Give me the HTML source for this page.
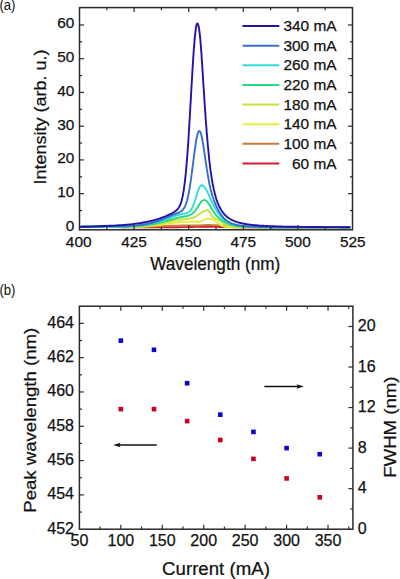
<!DOCTYPE html>
<html><head><meta charset="utf-8"><style>
html,body{margin:0;padding:0;background:#fff;width:400px;height:579px;overflow:hidden;position:relative}
svg text{font-family:"Liberation Sans", sans-serif;fill:#111;stroke:#111;stroke-width:0.25px}
</style></head><body>
<svg width="400" height="579" viewBox="0 0 400 579" style="position:absolute;left:0;top:0"><rect width="400" height="579" fill="#fff"/><polyline points="79.5,226.9 83.9,226.8 88.2,226.7 92.6,226.6 97.0,226.5 101.3,226.6 105.7,226.6 110.1,226.7 114.4,226.9 118.8,227.1 123.2,227.4 127.5,227.4 131.9,227.4 136.3,227.4 140.7,227.3 145.0,227.3 145.6,227.3 146.1,227.3 146.7,227.3 147.2,227.3 147.8,227.3 148.3,227.3 148.8,227.3 149.4,227.3 149.9,227.3 150.5,227.3 151.0,227.3 151.6,227.3 152.1,227.3 152.7,227.3 153.2,227.3 153.8,227.3 154.3,227.3 154.8,227.3 155.4,227.3 155.9,227.3 156.5,227.3 157.0,227.3 157.6,227.3 158.1,227.3 158.7,227.3 159.2,227.3 159.8,227.3 160.3,227.3 160.9,227.3 161.4,227.3 161.9,227.3 162.5,227.3 163.0,227.3 163.6,227.3 164.1,227.3 164.7,227.3 165.2,227.3 165.8,227.3 166.3,227.3 166.9,227.3 167.4,227.3 168.0,227.3 168.5,227.3 169.0,227.3 169.6,227.2 170.1,227.2 170.7,227.2 171.2,227.2 171.8,227.2 172.3,227.2 172.9,227.2 173.4,227.2 174.0,227.2 174.5,227.2 175.1,227.2 175.6,227.2 176.1,227.2 176.7,227.2 177.2,227.2 177.8,227.2 178.3,227.2 178.9,227.2 179.4,227.2 180.0,227.1 180.5,227.1 181.1,227.1 181.6,227.1 182.1,227.1 182.7,227.1 183.2,227.1 183.8,227.1 184.3,227.1 184.9,227.1 185.4,227.1 186.0,227.1 186.5,227.1 187.1,227.1 187.6,227.0 188.2,227.0 188.7,227.0 189.2,227.0 189.8,227.0 190.3,227.0 190.9,227.0 191.4,227.0 192.0,227.0 192.5,227.0 193.1,227.0 193.6,227.0 194.2,226.9 194.7,226.9 195.3,226.9 195.8,226.9 196.3,226.9 196.9,226.9 197.4,226.9 198.0,226.9 198.5,226.9 199.1,226.9 199.6,226.9 200.2,226.9 200.7,226.9 201.3,226.9 201.8,226.9 202.3,226.9 202.9,226.9 203.4,226.9 204.0,226.9 204.5,226.9 205.1,226.9 205.6,226.9 206.2,226.9 206.7,226.9 207.3,226.9 207.8,226.9 208.4,226.9 208.9,226.9 209.4,226.9 210.0,226.9 210.5,226.9 211.1,226.9 211.6,226.9 212.2,226.9 212.7,226.9 213.3,226.9 213.8,226.9 214.4,226.9 214.9,226.9 215.5,226.9 216.0,226.9 216.5,226.9 217.1,226.9 217.6,226.9 218.2,226.9 218.7,227.0 219.3,227.0 219.8,227.0 220.4,227.0 220.9,227.0 221.5,227.0 222.0,227.0 222.6,227.0 223.1,227.0 223.6,227.0 224.2,227.0 224.7,227.0 225.3,227.1 225.8,227.1 226.4,227.1 226.9,227.1 227.5,227.1 228.0,227.1 228.6,227.1 229.1,227.1 229.7,227.1 230.2,227.1 230.7,227.1 231.3,227.1 231.8,227.1 232.4,227.1 232.9,227.2 233.5,227.2 234.0,227.2 234.6,227.2 235.1,227.2 235.7,227.2 236.2,227.2 236.7,227.2 237.3,227.2 237.8,227.2 238.4,227.2 238.9,227.2 239.5,227.2 240.0,227.2 240.6,227.2 241.1,227.2 241.7,227.2 242.2,227.2 242.8,227.2 243.3,227.3 243.8,227.3 244.4,227.3 244.9,227.3 245.5,227.3 246.0,227.3 246.6,227.3 247.1,227.3 247.7,227.3 248.2,227.3 248.8,227.3 249.3,227.3 249.9,227.3 250.4,227.3 250.9,227.3 251.5,227.3 252.0,227.3 252.6,227.3 253.1,227.3 253.7,227.3 254.2,227.3 254.8,227.3 255.3,227.3 255.9,227.3 256.4,227.3 256.9,227.3 257.5,227.3 258.0,227.3 258.6,227.3 259.1,227.3 259.7,227.3 260.2,227.3 260.8,227.3 261.3,227.3 261.9,227.3 262.4,227.3 263.0,227.3 263.5,227.3 264.0,227.3 264.6,227.3 265.1,227.3 265.7,227.3 266.2,227.3 266.8,227.3 267.3,227.3 267.9,227.3 268.4,227.3 269.0,227.3 269.5,227.3 270.1,227.3 270.6,227.3 271.1,227.3 271.7,227.3 272.2,227.3 272.8,227.3 273.3,227.3 273.9,227.3 274.4,227.3 275.0,227.3 275.5,227.4 276.1,227.4 280.4,227.4 284.8,227.4 289.2,227.4 293.5,227.4 297.9,227.4 302.3,227.4 306.6,227.4 311.0,227.4 315.4,227.4 319.7,227.4 324.1,227.4 328.5,227.4 332.8,227.4 337.2,227.4 341.6,227.4 345.9,227.4 350.3,227.4" fill="none" stroke="#d01c30" stroke-width="1.9" stroke-linejoin="round"/><polyline points="79.5,226.9 83.9,226.8 88.2,226.7 92.6,226.6 97.0,226.5 101.3,226.5 105.7,226.6 110.1,226.7 114.4,226.8 118.8,227.0 123.2,227.2 127.5,227.1 131.9,227.1 136.3,227.0 140.7,226.9 145.0,226.7 145.6,226.7 146.1,226.7 146.7,226.7 147.2,226.7 147.8,226.6 148.3,226.6 148.8,226.6 149.4,226.6 149.9,226.6 150.5,226.5 151.0,226.5 151.6,226.5 152.1,226.5 152.7,226.4 153.2,226.4 153.8,226.4 154.3,226.4 154.8,226.3 155.4,226.3 155.9,226.3 156.5,226.3 157.0,226.2 157.6,226.2 158.1,226.2 158.7,226.2 159.2,226.1 159.8,226.1 160.3,226.1 160.9,226.1 161.4,226.0 161.9,226.0 162.5,226.0 163.0,226.0 163.6,226.0 164.1,225.9 164.7,225.9 165.2,225.9 165.8,225.9 166.3,225.8 166.9,225.8 167.4,225.8 168.0,225.8 168.5,225.8 169.0,225.8 169.6,225.7 170.1,225.7 170.7,225.7 171.2,225.7 171.8,225.7 172.3,225.7 172.9,225.7 173.4,225.6 174.0,225.6 174.5,225.6 175.1,225.6 175.6,225.6 176.1,225.6 176.7,225.6 177.2,225.6 177.8,225.6 178.3,225.6 178.9,225.6 179.4,225.5 180.0,225.5 180.5,225.5 181.1,225.5 181.6,225.5 182.1,225.5 182.7,225.5 183.2,225.5 183.8,225.5 184.3,225.5 184.9,225.5 185.4,225.5 186.0,225.5 186.5,225.5 187.1,225.5 187.6,225.5 188.2,225.5 188.7,225.5 189.2,225.5 189.8,225.5 190.3,225.5 190.9,225.5 191.4,225.5 192.0,225.5 192.5,225.5 193.1,225.5 193.6,225.5 194.2,225.5 194.7,225.5 195.3,225.5 195.8,225.5 196.3,225.5 196.9,225.5 197.4,225.5 198.0,225.5 198.5,225.5 199.1,225.5 199.6,225.4 200.2,225.4 200.7,225.4 201.3,225.4 201.8,225.3 202.3,225.3 202.9,225.3 203.4,225.2 204.0,225.2 204.5,225.1 205.1,225.1 205.6,225.0 206.2,225.0 206.7,225.0 207.3,225.0 207.8,225.0 208.4,225.0 208.9,225.0 209.4,225.0 210.0,225.0 210.5,225.0 211.1,225.1 211.6,225.1 212.2,225.1 212.7,225.1 213.3,225.1 213.8,225.2 214.4,225.2 214.9,225.2 215.5,225.2 216.0,225.2 216.5,225.3 217.1,225.3 217.6,225.3 218.2,225.3 218.7,225.4 219.3,225.4 219.8,225.4 220.4,225.5 220.9,225.5 221.5,225.5 222.0,225.6 222.6,225.6 223.1,225.6 223.6,225.7 224.2,225.7 224.7,225.8 225.3,225.8 225.8,225.9 226.4,225.9 226.9,226.0 227.5,226.0 228.0,226.1 228.6,226.1 229.1,226.2 229.7,226.3 230.2,226.3 230.7,226.4 231.3,226.4 231.8,226.5 232.4,226.5 232.9,226.6 233.5,226.6 234.0,226.7 234.6,226.7 235.1,226.8 235.7,226.8 236.2,226.8 236.7,226.9 237.3,226.9 237.8,226.9 238.4,227.0 238.9,227.0 239.5,227.0 240.0,227.1 240.6,227.1 241.1,227.1 241.7,227.1 242.2,227.1 242.8,227.2 243.3,227.2 243.8,227.2 244.4,227.2 244.9,227.2 245.5,227.2 246.0,227.2 246.6,227.2 247.1,227.3 247.7,227.3 248.2,227.3 248.8,227.3 249.3,227.3 249.9,227.3 250.4,227.3 250.9,227.3 251.5,227.3 252.0,227.3 252.6,227.3 253.1,227.3 253.7,227.3 254.2,227.3 254.8,227.3 255.3,227.3 255.9,227.3 256.4,227.3 256.9,227.3 257.5,227.4 258.0,227.4 258.6,227.4 259.1,227.4 259.7,227.4 260.2,227.4 260.8,227.4 261.3,227.4 261.9,227.4 262.4,227.4 263.0,227.4 263.5,227.4 264.0,227.4 264.6,227.4 265.1,227.4 265.7,227.4 266.2,227.4 266.8,227.4 267.3,227.4 267.9,227.4 268.4,227.4 269.0,227.4 269.5,227.4 270.1,227.4 270.6,227.4 271.1,227.4 271.7,227.4 272.2,227.4 272.8,227.4 273.3,227.4 273.9,227.4 274.4,227.4 275.0,227.4 275.5,227.4 276.1,227.4 280.4,227.4 284.8,227.4 289.2,227.4 293.5,227.4 297.9,227.4 302.3,227.4 306.6,227.4 311.0,227.4 315.4,227.4 319.7,227.4 324.1,227.4 328.5,227.4 332.8,227.4 337.2,227.4 341.6,227.4 345.9,227.4 350.3,227.4" fill="none" stroke="#cc7a3a" stroke-width="1.9" stroke-linejoin="round"/><polyline points="79.5,226.9 83.9,226.8 88.2,226.7 92.6,226.6 97.0,226.5 101.3,226.5 105.7,226.6 110.1,226.7 114.4,226.8 118.8,226.9 123.2,227.2 127.5,227.1 131.9,227.0 136.3,226.9 140.7,226.7 145.0,226.5 145.6,226.4 146.1,226.4 146.7,226.3 147.2,226.3 147.8,226.3 148.3,226.2 148.8,226.2 149.4,226.1 149.9,226.1 150.5,226.0 151.0,226.0 151.6,225.9 152.1,225.9 152.7,225.8 153.2,225.8 153.8,225.7 154.3,225.7 154.8,225.6 155.4,225.5 155.9,225.5 156.5,225.4 157.0,225.3 157.6,225.2 158.1,225.2 158.7,225.1 159.2,225.0 159.8,224.9 160.3,224.9 160.9,224.8 161.4,224.7 161.9,224.6 162.5,224.5 163.0,224.4 163.6,224.4 164.1,224.3 164.7,224.2 165.2,224.1 165.8,224.0 166.3,223.9 166.9,223.8 167.4,223.8 168.0,223.7 168.5,223.6 169.0,223.5 169.6,223.4 170.1,223.3 170.7,223.2 171.2,223.2 171.8,223.1 172.3,223.0 172.9,222.9 173.4,222.9 174.0,222.8 174.5,222.7 175.1,222.7 175.6,222.6 176.1,222.6 176.7,222.5 177.2,222.4 177.8,222.4 178.3,222.3 178.9,222.3 179.4,222.3 180.0,222.2 180.5,222.2 181.1,222.1 181.6,222.1 182.1,222.1 182.7,222.1 183.2,222.0 183.8,222.0 184.3,222.0 184.9,222.0 185.4,221.9 186.0,221.9 186.5,221.9 187.1,221.9 187.6,221.9 188.2,221.9 188.7,221.9 189.2,221.9 189.8,221.8 190.3,221.8 190.9,221.8 191.4,221.8 192.0,221.8 192.5,221.8 193.1,221.8 193.6,221.8 194.2,221.8 194.7,221.8 195.3,221.8 195.8,221.8 196.3,221.8 196.9,221.8 197.4,221.8 198.0,221.8 198.5,221.7 199.1,221.7 199.6,221.6 200.2,221.5 200.7,221.4 201.3,221.3 201.8,221.1 202.3,220.9 202.9,220.6 203.4,220.3 204.0,220.0 204.5,219.7 205.1,219.4 205.6,219.1 206.2,218.9 206.7,218.7 207.3,218.6 207.8,218.6 208.4,218.6 208.9,218.7 209.4,218.8 210.0,218.9 210.5,219.1 211.1,219.2 211.6,219.4 212.2,219.6 212.7,219.9 213.3,220.1 213.8,220.4 214.4,220.7 214.9,221.0 215.5,221.3 216.0,221.7 216.5,222.1 217.1,222.5 217.6,222.9 218.2,223.3 218.7,223.7 219.3,224.1 219.8,224.5 220.4,224.9 220.9,225.2 221.5,225.5 222.0,225.7 222.6,225.9 223.1,226.1 223.6,226.3 224.2,226.5 224.7,226.6 225.3,226.7 225.8,226.8 226.4,226.9 226.9,226.9 227.5,227.0 228.0,227.0 228.6,227.1 229.1,227.1 229.7,227.1 230.2,227.2 230.7,227.2 231.3,227.2 231.8,227.2 232.4,227.3 232.9,227.3 233.5,227.3 234.0,227.3 234.6,227.3 235.1,227.3 235.7,227.3 236.2,227.3 236.7,227.3 237.3,227.3 237.8,227.3 238.4,227.3 238.9,227.4 239.5,227.4 240.0,227.4 240.6,227.4 241.1,227.4 241.7,227.4 242.2,227.4 242.8,227.4 243.3,227.4 243.8,227.4 244.4,227.4 244.9,227.4 245.5,227.4 246.0,227.4 246.6,227.4 247.1,227.4 247.7,227.4 248.2,227.4 248.8,227.4 249.3,227.4 249.9,227.4 250.4,227.4 250.9,227.4 251.5,227.4 252.0,227.4 252.6,227.4 253.1,227.4 253.7,227.4 254.2,227.4 254.8,227.4 255.3,227.4 255.9,227.4 256.4,227.4 256.9,227.4 257.5,227.4 258.0,227.4 258.6,227.4 259.1,227.4 259.7,227.4 260.2,227.4 260.8,227.4 261.3,227.4 261.9,227.4 262.4,227.4 263.0,227.4 263.5,227.4 264.0,227.4 264.6,227.4 265.1,227.4 265.7,227.4 266.2,227.4 266.8,227.4 267.3,227.4 267.9,227.4 268.4,227.4 269.0,227.4 269.5,227.4 270.1,227.4 270.6,227.4 271.1,227.4 271.7,227.4 272.2,227.4 272.8,227.4 273.3,227.4 273.9,227.4 274.4,227.4 275.0,227.4 275.5,227.4 276.1,227.4 280.4,227.4 284.8,227.4 289.2,227.4 293.5,227.4 297.9,227.4 302.3,227.4 306.6,227.4 311.0,227.4 315.4,227.4 319.7,227.4 324.1,227.4 328.5,227.4 332.8,227.4 337.2,227.4 341.6,227.4 345.9,227.4 350.3,227.4" fill="none" stroke="#e6ee3a" stroke-width="1.9" stroke-linejoin="round"/><polyline points="79.5,226.9 83.9,226.8 88.2,226.7 92.6,226.6 97.0,226.5 101.3,226.5 105.7,226.6 110.1,226.6 114.4,226.7 118.8,226.9 123.2,227.1 127.5,227.0 131.9,226.9 136.3,226.7 140.7,226.5 145.0,226.1 145.6,226.1 146.1,226.0 146.7,226.0 147.2,225.9 147.8,225.9 148.3,225.8 148.8,225.8 149.4,225.7 149.9,225.6 150.5,225.6 151.0,225.5 151.6,225.4 152.1,225.3 152.7,225.3 153.2,225.2 153.8,225.1 154.3,225.0 154.8,224.9 155.4,224.8 155.9,224.7 156.5,224.6 157.0,224.5 157.6,224.4 158.1,224.3 158.7,224.2 159.2,224.1 159.8,224.0 160.3,223.9 160.9,223.7 161.4,223.6 161.9,223.5 162.5,223.4 163.0,223.2 163.6,223.1 164.1,223.0 164.7,222.8 165.2,222.7 165.8,222.6 166.3,222.4 166.9,222.3 167.4,222.2 168.0,222.0 168.5,221.9 169.0,221.8 169.6,221.6 170.1,221.5 170.7,221.4 171.2,221.2 171.8,221.1 172.3,221.0 172.9,220.9 173.4,220.8 174.0,220.7 174.5,220.6 175.1,220.5 175.6,220.4 176.1,220.3 176.7,220.2 177.2,220.1 177.8,220.0 178.3,219.9 178.9,219.8 179.4,219.8 180.0,219.7 180.5,219.6 181.1,219.6 181.6,219.5 182.1,219.5 182.7,219.4 183.2,219.3 183.8,219.3 184.3,219.2 184.9,219.2 185.4,219.1 186.0,219.1 186.5,219.0 187.1,219.0 187.6,218.9 188.2,218.8 188.7,218.7 189.2,218.6 189.8,218.5 190.3,218.4 190.9,218.3 191.4,218.2 192.0,218.0 192.5,217.8 193.1,217.6 193.6,217.4 194.2,217.2 194.7,217.0 195.3,216.7 195.8,216.4 196.3,216.1 196.9,215.7 197.4,215.4 198.0,215.0 198.5,214.7 199.1,214.3 199.6,213.9 200.2,213.5 200.7,213.1 201.3,212.7 201.8,212.4 202.3,212.0 202.9,211.7 203.4,211.4 204.0,211.1 204.5,210.9 205.1,210.7 205.6,210.5 206.2,210.4 206.7,210.3 207.3,210.3 207.8,210.4 208.4,210.8 208.9,211.3 209.4,212.1 210.0,212.9 210.5,213.7 211.1,214.6 211.6,215.5 212.2,216.2 212.7,216.9 213.3,217.5 213.8,217.9 214.4,218.3 214.9,218.7 215.5,218.9 216.0,219.2 216.5,219.4 217.1,219.6 217.6,219.8 218.2,220.1 218.7,220.4 219.3,220.7 219.8,221.0 220.4,221.3 220.9,221.7 221.5,222.1 222.0,222.4 222.6,222.8 223.1,223.2 223.6,223.5 224.2,223.9 224.7,224.2 225.3,224.5 225.8,224.8 226.4,225.0 226.9,225.3 227.5,225.5 228.0,225.7 228.6,225.8 229.1,226.0 229.7,226.1 230.2,226.2 230.7,226.4 231.3,226.5 231.8,226.6 232.4,226.6 232.9,226.7 233.5,226.8 234.0,226.8 234.6,226.9 235.1,226.9 235.7,227.0 236.2,227.0 236.7,227.0 237.3,227.1 237.8,227.1 238.4,227.1 238.9,227.1 239.5,227.2 240.0,227.2 240.6,227.2 241.1,227.2 241.7,227.2 242.2,227.2 242.8,227.3 243.3,227.3 243.8,227.3 244.4,227.3 244.9,227.3 245.5,227.3 246.0,227.3 246.6,227.3 247.1,227.3 247.7,227.3 248.2,227.3 248.8,227.3 249.3,227.3 249.9,227.3 250.4,227.3 250.9,227.3 251.5,227.4 252.0,227.4 252.6,227.4 253.1,227.4 253.7,227.4 254.2,227.4 254.8,227.4 255.3,227.4 255.9,227.4 256.4,227.4 256.9,227.4 257.5,227.4 258.0,227.4 258.6,227.4 259.1,227.4 259.7,227.4 260.2,227.4 260.8,227.4 261.3,227.4 261.9,227.4 262.4,227.4 263.0,227.4 263.5,227.4 264.0,227.4 264.6,227.4 265.1,227.4 265.7,227.4 266.2,227.4 266.8,227.4 267.3,227.4 267.9,227.4 268.4,227.4 269.0,227.4 269.5,227.4 270.1,227.4 270.6,227.4 271.1,227.4 271.7,227.4 272.2,227.4 272.8,227.4 273.3,227.4 273.9,227.4 274.4,227.4 275.0,227.4 275.5,227.4 276.1,227.4 280.4,227.4 284.8,227.4 289.2,227.4 293.5,227.4 297.9,227.4 302.3,227.4 306.6,227.4 311.0,227.4 315.4,227.4 319.7,227.4 324.1,227.4 328.5,227.4 332.8,227.4 337.2,227.4 341.6,227.4 345.9,227.4 350.3,227.4" fill="none" stroke="#c4e43c" stroke-width="1.9" stroke-linejoin="round"/><polyline points="79.5,226.9 83.9,226.8 88.2,226.7 92.6,226.6 97.0,226.5 101.3,226.5 105.7,226.5 110.1,226.5 114.4,226.5 118.8,226.6 123.2,226.7 127.5,226.5 131.9,226.3 136.3,226.0 140.7,225.7 145.0,225.2 145.6,225.2 146.1,225.1 146.7,225.0 147.2,225.0 147.8,224.9 148.3,224.8 148.8,224.8 149.4,224.7 149.9,224.6 150.5,224.5 151.0,224.4 151.6,224.3 152.1,224.2 152.7,224.2 153.2,224.1 153.8,224.0 154.3,223.9 154.8,223.8 155.4,223.6 155.9,223.5 156.5,223.4 157.0,223.3 157.6,223.2 158.1,223.1 158.7,222.9 159.2,222.8 159.8,222.7 160.3,222.6 160.9,222.4 161.4,222.3 161.9,222.1 162.5,222.0 163.0,221.9 163.6,221.7 164.1,221.6 164.7,221.4 165.2,221.3 165.8,221.1 166.3,221.0 166.9,220.8 167.4,220.6 168.0,220.5 168.5,220.3 169.0,220.2 169.6,220.0 170.1,219.8 170.7,219.7 171.2,219.5 171.8,219.4 172.3,219.2 172.9,219.1 173.4,218.9 174.0,218.8 174.5,218.6 175.1,218.5 175.6,218.3 176.1,218.2 176.7,218.0 177.2,217.9 177.8,217.8 178.3,217.7 178.9,217.5 179.4,217.4 180.0,217.3 180.5,217.2 181.1,217.1 181.6,217.0 182.1,216.9 182.7,216.8 183.2,216.7 183.8,216.6 184.3,216.5 184.9,216.4 185.4,216.3 186.0,216.2 186.5,216.1 187.1,216.0 187.6,215.8 188.2,215.7 188.7,215.5 189.2,215.3 189.8,215.1 190.3,214.8 190.9,214.5 191.4,214.2 192.0,213.8 192.5,213.4 193.1,212.9 193.6,212.4 194.2,211.8 194.7,211.2 195.3,210.5 195.8,209.8 196.3,209.0 196.9,208.2 197.4,207.4 198.0,206.6 198.5,205.7 199.1,204.9 199.6,204.1 200.2,203.3 200.7,202.6 201.3,201.9 201.8,201.3 202.3,200.8 202.9,200.5 203.4,200.2 204.0,200.0 204.5,200.0 205.1,200.1 205.6,200.3 206.2,200.7 206.7,201.2 207.3,201.8 207.8,202.5 208.4,203.2 208.9,204.1 209.4,204.9 210.0,205.8 210.5,206.8 211.1,207.7 211.6,208.6 212.2,209.6 212.7,210.4 213.3,211.3 213.8,212.1 214.4,212.9 214.9,213.6 215.5,214.3 216.0,215.0 216.5,215.6 217.1,216.2 217.6,216.8 218.2,217.3 218.7,217.8 219.3,218.3 219.8,218.8 220.4,219.2 220.9,219.6 221.5,220.0 222.0,220.4 222.6,220.8 223.1,221.2 223.6,221.5 224.2,221.8 224.7,222.1 225.3,222.4 225.8,222.7 226.4,223.0 226.9,223.3 227.5,223.5 228.0,223.7 228.6,223.9 229.1,224.2 229.7,224.3 230.2,224.5 230.7,224.7 231.3,224.9 231.8,225.0 232.4,225.1 232.9,225.3 233.5,225.4 234.0,225.5 234.6,225.6 235.1,225.7 235.7,225.8 236.2,225.9 236.7,226.0 237.3,226.1 237.8,226.1 238.4,226.2 238.9,226.3 239.5,226.3 240.0,226.4 240.6,226.4 241.1,226.5 241.7,226.5 242.2,226.6 242.8,226.6 243.3,226.7 243.8,226.7 244.4,226.7 244.9,226.8 245.5,226.8 246.0,226.8 246.6,226.8 247.1,226.9 247.7,226.9 248.2,226.9 248.8,226.9 249.3,227.0 249.9,227.0 250.4,227.0 250.9,227.0 251.5,227.0 252.0,227.0 252.6,227.1 253.1,227.1 253.7,227.1 254.2,227.1 254.8,227.1 255.3,227.1 255.9,227.1 256.4,227.1 256.9,227.2 257.5,227.2 258.0,227.2 258.6,227.2 259.1,227.2 259.7,227.2 260.2,227.2 260.8,227.2 261.3,227.2 261.9,227.2 262.4,227.2 263.0,227.2 263.5,227.2 264.0,227.2 264.6,227.3 265.1,227.3 265.7,227.3 266.2,227.3 266.8,227.3 267.3,227.3 267.9,227.3 268.4,227.3 269.0,227.3 269.5,227.3 270.1,227.3 270.6,227.3 271.1,227.3 271.7,227.3 272.2,227.3 272.8,227.3 273.3,227.3 273.9,227.3 274.4,227.3 275.0,227.3 275.5,227.3 276.1,227.3 280.4,227.3 284.8,227.4 289.2,227.4 293.5,227.4 297.9,227.4 302.3,227.4 306.6,227.4 311.0,227.4 315.4,227.4 319.7,227.4 324.1,227.4 328.5,227.4 332.8,227.4 337.2,227.4 341.6,227.4 345.9,227.4 350.3,227.4" fill="none" stroke="#24d884" stroke-width="1.9" stroke-linejoin="round"/><polyline points="79.5,226.9 83.9,226.8 88.2,226.7 92.6,226.6 97.0,226.5 101.3,226.5 105.7,226.5 110.1,226.5 114.4,226.5 118.8,226.6 123.2,226.6 127.5,226.4 131.9,226.2 136.3,225.9 140.7,225.5 145.0,224.9 145.6,224.9 146.1,224.8 146.7,224.7 147.2,224.6 147.8,224.5 148.3,224.4 148.8,224.3 149.4,224.2 149.9,224.1 150.5,224.0 151.0,223.9 151.6,223.8 152.1,223.7 152.7,223.6 153.2,223.4 153.8,223.3 154.3,223.2 154.8,223.0 155.4,222.9 155.9,222.8 156.5,222.6 157.0,222.5 157.6,222.3 158.1,222.1 158.7,222.0 159.2,221.8 159.8,221.6 160.3,221.4 160.9,221.3 161.4,221.1 161.9,220.9 162.5,220.7 163.0,220.5 163.6,220.3 164.1,220.1 164.7,219.9 165.2,219.7 165.8,219.5 166.3,219.3 166.9,219.0 167.4,218.8 168.0,218.6 168.5,218.4 169.0,218.2 169.6,218.0 170.1,217.8 170.7,217.5 171.2,217.3 171.8,217.1 172.3,216.9 172.9,216.7 173.4,216.5 174.0,216.3 174.5,216.1 175.1,215.9 175.6,215.8 176.1,215.6 176.7,215.4 177.2,215.3 177.8,215.1 178.3,215.0 178.9,214.8 179.4,214.7 180.0,214.5 180.5,214.4 181.1,214.3 181.6,214.2 182.1,214.1 182.7,214.0 183.2,213.9 183.8,213.8 184.3,213.7 184.9,213.5 185.4,213.4 186.0,213.3 186.5,213.1 187.1,212.9 187.6,212.7 188.2,212.4 188.7,212.1 189.2,211.7 189.8,211.2 190.3,210.6 190.9,209.9 191.4,209.1 192.0,208.2 192.5,207.1 193.1,205.9 193.6,204.5 194.2,203.1 194.7,201.5 195.3,199.8 195.8,198.0 196.3,196.2 196.9,194.5 197.4,192.7 198.0,191.0 198.5,189.5 199.1,188.2 199.6,187.0 200.2,186.2 200.7,185.6 201.3,185.3 201.8,185.3 202.3,185.4 202.9,185.7 203.4,186.1 204.0,186.6 204.5,187.2 205.1,187.9 205.6,188.8 206.2,189.7 206.7,190.7 207.3,191.7 207.8,192.8 208.4,194.0 208.9,195.2 209.4,196.4 210.0,197.6 210.5,198.8 211.1,200.1 211.6,201.3 212.2,202.5 212.7,203.6 213.3,204.7 213.8,205.8 214.4,206.9 214.9,207.9 215.5,208.9 216.0,209.8 216.5,210.7 217.1,211.6 217.6,212.4 218.2,213.2 218.7,214.0 219.3,214.7 219.8,215.4 220.4,216.0 220.9,216.6 221.5,217.2 222.0,217.7 222.6,218.3 223.1,218.8 223.6,219.2 224.2,219.7 224.7,220.1 225.3,220.5 225.8,220.9 226.4,221.2 226.9,221.5 227.5,221.9 228.0,222.2 228.6,222.4 229.1,222.7 229.7,223.0 230.2,223.2 230.7,223.4 231.3,223.6 231.8,223.8 232.4,224.0 232.9,224.2 233.5,224.4 234.0,224.5 234.6,224.7 235.1,224.8 235.7,224.9 236.2,225.1 236.7,225.2 237.3,225.3 237.8,225.4 238.4,225.5 238.9,225.6 239.5,225.7 240.0,225.8 240.6,225.8 241.1,225.9 241.7,226.0 242.2,226.1 242.8,226.1 243.3,226.2 243.8,226.2 244.4,226.3 244.9,226.3 245.5,226.4 246.0,226.4 246.6,226.5 247.1,226.5 247.7,226.5 248.2,226.6 248.8,226.6 249.3,226.7 249.9,226.7 250.4,226.7 250.9,226.7 251.5,226.8 252.0,226.8 252.6,226.8 253.1,226.8 253.7,226.9 254.2,226.9 254.8,226.9 255.3,226.9 255.9,226.9 256.4,227.0 256.9,227.0 257.5,227.0 258.0,227.0 258.6,227.0 259.1,227.0 259.7,227.0 260.2,227.1 260.8,227.1 261.3,227.1 261.9,227.1 262.4,227.1 263.0,227.1 263.5,227.1 264.0,227.1 264.6,227.1 265.1,227.1 265.7,227.2 266.2,227.2 266.8,227.2 267.3,227.2 267.9,227.2 268.4,227.2 269.0,227.2 269.5,227.2 270.1,227.2 270.6,227.2 271.1,227.2 271.7,227.2 272.2,227.2 272.8,227.2 273.3,227.2 273.9,227.2 274.4,227.3 275.0,227.3 275.5,227.3 276.1,227.3 280.4,227.3 284.8,227.3 289.2,227.3 293.5,227.3 297.9,227.4 302.3,227.4 306.6,227.4 311.0,227.4 315.4,227.4 319.7,227.4 324.1,227.4 328.5,227.4 332.8,227.4 337.2,227.4 341.6,227.4 345.9,227.4 350.3,227.4" fill="none" stroke="#30dcd8" stroke-width="1.9" stroke-linejoin="round"/><polyline points="79.5,226.9 83.9,226.8 88.2,226.7 92.6,226.6 97.0,226.5 101.3,226.5 105.7,226.4 110.1,226.4 114.4,226.4 118.8,226.4 123.2,226.4 127.5,226.2 131.9,225.9 136.3,225.5 140.7,225.0 145.0,224.3 145.6,224.3 146.1,224.2 146.7,224.1 147.2,223.9 147.8,223.8 148.3,223.7 148.8,223.6 149.4,223.5 149.9,223.4 150.5,223.2 151.0,223.1 151.6,223.0 152.1,222.8 152.7,222.7 153.2,222.5 153.8,222.4 154.3,222.2 154.8,222.1 155.4,221.9 155.9,221.7 156.5,221.6 157.0,221.4 157.6,221.2 158.1,221.0 158.7,220.8 159.2,220.6 159.8,220.4 160.3,220.2 160.9,220.0 161.4,219.8 161.9,219.5 162.5,219.3 163.0,219.1 163.6,218.9 164.1,218.6 164.7,218.4 165.2,218.2 165.8,217.9 166.3,217.7 166.9,217.4 167.4,217.2 168.0,217.0 168.5,216.7 169.0,216.5 169.6,216.2 170.1,216.0 170.7,215.8 171.2,215.5 171.8,215.3 172.3,215.1 172.9,214.9 173.4,214.6 174.0,214.4 174.5,214.2 175.1,214.0 175.6,213.8 176.1,213.6 176.7,213.4 177.2,213.2 177.8,213.0 178.3,212.8 178.9,212.5 179.4,212.3 180.0,212.0 180.5,211.7 181.1,211.4 181.6,211.0 182.1,210.5 182.7,210.0 183.2,209.3 183.8,208.6 184.3,207.7 184.9,206.6 185.4,205.4 186.0,204.0 186.5,202.3 187.1,200.5 187.6,198.3 188.2,195.9 188.7,193.3 189.2,190.3 189.8,187.1 190.3,183.6 190.9,179.9 191.4,176.0 192.0,171.8 192.5,167.6 193.1,163.3 193.6,159.0 194.2,154.7 194.7,150.6 195.3,146.7 195.8,143.0 196.3,139.8 196.9,136.9 197.4,134.6 198.0,132.8 198.5,131.6 199.1,131.1 199.6,131.1 200.2,131.7 200.7,133.0 201.3,134.7 201.8,137.0 202.3,139.6 202.9,142.7 203.4,146.0 204.0,149.6 204.5,153.3 205.1,157.1 205.6,160.9 206.2,164.6 206.7,168.2 207.3,171.7 207.8,175.1 208.4,178.2 208.9,181.2 209.4,183.9 210.0,186.5 210.5,188.9 211.1,191.1 211.6,193.1 212.2,195.0 212.7,196.8 213.3,198.5 213.8,200.0 214.4,201.5 214.9,202.9 215.5,204.2 216.0,205.5 216.5,206.7 217.1,207.8 217.6,208.9 218.2,209.9 218.7,210.9 219.3,211.9 219.8,212.8 220.4,213.6 220.9,214.4 221.5,215.2 222.0,215.9 222.6,216.6 223.1,217.3 223.6,217.9 224.2,218.4 224.7,219.0 225.3,219.5 225.8,219.9 226.4,220.4 226.9,220.8 227.5,221.2 228.0,221.5 228.6,221.9 229.1,222.2 229.7,222.5 230.2,222.8 230.7,223.0 231.3,223.3 231.8,223.5 232.4,223.7 232.9,223.9 233.5,224.1 234.0,224.3 234.6,224.4 235.1,224.6 235.7,224.7 236.2,224.9 236.7,225.0 237.3,225.1 237.8,225.2 238.4,225.3 238.9,225.4 239.5,225.5 240.0,225.6 240.6,225.7 241.1,225.8 241.7,225.8 242.2,225.9 242.8,226.0 243.3,226.0 243.8,226.1 244.4,226.2 244.9,226.2 245.5,226.3 246.0,226.3 246.6,226.4 247.1,226.4 247.7,226.4 248.2,226.5 248.8,226.5 249.3,226.5 249.9,226.6 250.4,226.6 250.9,226.6 251.5,226.7 252.0,226.7 252.6,226.7 253.1,226.7 253.7,226.8 254.2,226.8 254.8,226.8 255.3,226.8 255.9,226.9 256.4,226.9 256.9,226.9 257.5,226.9 258.0,226.9 258.6,226.9 259.1,227.0 259.7,227.0 260.2,227.0 260.8,227.0 261.3,227.0 261.9,227.0 262.4,227.0 263.0,227.1 263.5,227.1 264.0,227.1 264.6,227.1 265.1,227.1 265.7,227.1 266.2,227.1 266.8,227.1 267.3,227.1 267.9,227.1 268.4,227.1 269.0,227.1 269.5,227.2 270.1,227.2 270.6,227.2 271.1,227.2 271.7,227.2 272.2,227.2 272.8,227.2 273.3,227.2 273.9,227.2 274.4,227.2 275.0,227.2 275.5,227.2 276.1,227.2 280.4,227.3 284.8,227.3 289.2,227.3 293.5,227.3 297.9,227.3 302.3,227.3 306.6,227.4 311.0,227.4 315.4,227.4 319.7,227.4 324.1,227.4 328.5,227.4 332.8,227.4 337.2,227.4 341.6,227.4 345.9,227.4 350.3,227.4" fill="none" stroke="#3470c4" stroke-width="1.9" stroke-linejoin="round"/><polyline points="79.5,226.9 83.9,226.8 88.2,226.7 92.6,226.6 97.0,226.4 101.3,226.2 105.7,226.0 110.1,225.8 114.4,225.6 118.8,225.3 123.2,225.0 127.5,224.6 131.9,224.2 136.3,223.6 140.7,223.0 145.0,222.2 145.6,222.1 146.1,222.0 146.7,221.9 147.2,221.8 147.8,221.7 148.3,221.6 148.8,221.5 149.4,221.3 149.9,221.2 150.5,221.1 151.0,221.0 151.6,220.8 152.1,220.7 152.7,220.6 153.2,220.4 153.8,220.3 154.3,220.1 154.8,220.0 155.4,219.8 155.9,219.6 156.5,219.5 157.0,219.3 157.6,219.1 158.1,219.0 158.7,218.8 159.2,218.6 159.8,218.4 160.3,218.2 160.9,218.0 161.4,217.8 161.9,217.6 162.5,217.4 163.0,217.2 163.6,217.0 164.1,216.8 164.7,216.6 165.2,216.3 165.8,216.1 166.3,215.9 166.9,215.6 167.4,215.4 168.0,215.2 168.5,214.9 169.0,214.7 169.6,214.4 170.1,214.1 170.7,213.9 171.2,213.6 171.8,213.3 172.3,213.0 172.9,212.8 173.4,212.5 174.0,212.1 174.5,211.8 175.1,211.4 175.6,211.1 176.1,210.6 176.7,210.1 177.2,209.6 177.8,209.0 178.3,208.3 178.9,207.5 179.4,206.5 180.0,205.4 180.5,204.1 181.1,202.5 181.6,200.7 182.1,198.6 182.7,196.1 183.2,193.2 183.8,189.8 184.3,186.0 184.9,181.7 185.4,176.8 186.0,171.3 186.5,165.2 187.1,158.5 187.6,151.2 188.2,143.4 188.7,135.0 189.2,126.2 189.8,117.0 190.3,107.5 190.9,97.9 191.4,88.2 192.0,78.7 192.5,69.4 193.1,60.6 193.6,52.4 194.2,44.9 194.7,38.4 195.3,32.9 195.8,28.6 196.3,25.6 196.9,23.9 197.4,23.5 198.0,24.1 198.5,25.9 199.1,28.8 199.6,32.9 200.2,38.2 200.7,44.5 201.3,51.5 201.8,59.3 202.3,67.4 202.9,75.9 203.4,84.5 204.0,93.1 204.5,101.5 205.1,109.7 205.6,117.5 206.2,125.1 206.7,132.2 207.3,138.9 207.8,145.1 208.4,150.9 208.9,156.3 209.4,161.3 210.0,165.9 210.5,170.2 211.1,174.1 211.6,177.7 212.2,181.0 212.7,184.0 213.3,186.8 213.8,189.4 214.4,191.8 214.9,194.0 215.5,196.0 216.0,197.9 216.5,199.6 217.1,201.2 217.6,202.6 218.2,204.0 218.7,205.3 219.3,206.5 219.8,207.6 220.4,208.6 220.9,209.5 221.5,210.4 222.0,211.2 222.6,212.0 223.1,212.7 223.6,213.4 224.2,214.1 224.7,214.7 225.3,215.2 225.8,215.7 226.4,216.2 226.9,216.7 227.5,217.2 228.0,217.6 228.6,218.0 229.1,218.3 229.7,218.7 230.2,219.0 230.7,219.3 231.3,219.6 231.8,219.9 232.4,220.2 232.9,220.5 233.5,220.7 234.0,220.9 234.6,221.2 235.1,221.4 235.7,221.6 236.2,221.8 236.7,221.9 237.3,222.1 237.8,222.3 238.4,222.5 238.9,222.6 239.5,222.8 240.0,222.9 240.6,223.0 241.1,223.2 241.7,223.3 242.2,223.4 242.8,223.5 243.3,223.6 243.8,223.7 244.4,223.8 244.9,223.9 245.5,224.0 246.0,224.1 246.6,224.2 247.1,224.3 247.7,224.4 248.2,224.4 248.8,224.5 249.3,224.6 249.9,224.7 250.4,224.7 250.9,224.8 251.5,224.9 252.0,224.9 252.6,225.0 253.1,225.0 253.7,225.1 254.2,225.1 254.8,225.2 255.3,225.2 255.9,225.3 256.4,225.3 256.9,225.4 257.5,225.4 258.0,225.5 258.6,225.5 259.1,225.6 259.7,225.6 260.2,225.6 260.8,225.7 261.3,225.7 261.9,225.7 262.4,225.8 263.0,225.8 263.5,225.8 264.0,225.9 264.6,225.9 265.1,225.9 265.7,226.0 266.2,226.0 266.8,226.0 267.3,226.0 267.9,226.1 268.4,226.1 269.0,226.1 269.5,226.1 270.1,226.2 270.6,226.2 271.1,226.2 271.7,226.2 272.2,226.2 272.8,226.3 273.3,226.3 273.9,226.3 274.4,226.3 275.0,226.3 275.5,226.4 276.1,226.4 280.4,226.5 284.8,226.6 289.2,226.7 293.5,226.8 297.9,226.8 302.3,226.9 306.6,226.9 311.0,227.0 315.4,227.0 319.7,227.0 324.1,227.1 328.5,227.1 332.8,227.1 337.2,227.1 341.6,227.2 345.9,227.2 350.3,227.2" fill="none" stroke="#2212a8" stroke-width="1.9" stroke-linejoin="round"/><rect x="79.5" y="7.6" width="273.0" height="222.20000000000002" fill="none" stroke="#2b2b2b" stroke-width="1.5"/><text x="78.70" y="247.20" font-size="15.4" text-anchor="middle">400</text><line x1="106.80" y1="229.8" x2="106.80" y2="227.20000000000002" stroke="#2b2b2b" stroke-width="1.2"/><line x1="106.80" y1="7.6" x2="106.80" y2="10.2" stroke="#2b2b2b" stroke-width="1.2"/><line x1="134.10" y1="229.8" x2="134.10" y2="225.3" stroke="#2b2b2b" stroke-width="1.2"/><line x1="134.10" y1="7.6" x2="134.10" y2="12.1" stroke="#2b2b2b" stroke-width="1.2"/><text x="134.10" y="247.20" font-size="15.4" text-anchor="middle">425</text><line x1="161.40" y1="229.8" x2="161.40" y2="227.20000000000002" stroke="#2b2b2b" stroke-width="1.2"/><line x1="161.40" y1="7.6" x2="161.40" y2="10.2" stroke="#2b2b2b" stroke-width="1.2"/><line x1="188.70" y1="229.8" x2="188.70" y2="225.3" stroke="#2b2b2b" stroke-width="1.2"/><line x1="188.70" y1="7.6" x2="188.70" y2="12.1" stroke="#2b2b2b" stroke-width="1.2"/><text x="188.70" y="247.20" font-size="15.4" text-anchor="middle">450</text><line x1="216.00" y1="229.8" x2="216.00" y2="227.20000000000002" stroke="#2b2b2b" stroke-width="1.2"/><line x1="216.00" y1="7.6" x2="216.00" y2="10.2" stroke="#2b2b2b" stroke-width="1.2"/><line x1="243.30" y1="229.8" x2="243.30" y2="225.3" stroke="#2b2b2b" stroke-width="1.2"/><line x1="243.30" y1="7.6" x2="243.30" y2="12.1" stroke="#2b2b2b" stroke-width="1.2"/><text x="243.30" y="247.20" font-size="15.4" text-anchor="middle">475</text><line x1="270.60" y1="229.8" x2="270.60" y2="227.20000000000002" stroke="#2b2b2b" stroke-width="1.2"/><line x1="270.60" y1="7.6" x2="270.60" y2="10.2" stroke="#2b2b2b" stroke-width="1.2"/><line x1="297.90" y1="229.8" x2="297.90" y2="225.3" stroke="#2b2b2b" stroke-width="1.2"/><line x1="297.90" y1="7.6" x2="297.90" y2="12.1" stroke="#2b2b2b" stroke-width="1.2"/><text x="297.90" y="247.20" font-size="15.4" text-anchor="middle">500</text><line x1="325.20" y1="229.8" x2="325.20" y2="227.20000000000002" stroke="#2b2b2b" stroke-width="1.2"/><line x1="325.20" y1="7.6" x2="325.20" y2="10.2" stroke="#2b2b2b" stroke-width="1.2"/><text x="352.80" y="247.20" font-size="15.4" text-anchor="middle">525</text><text x="74.40" y="230.90" font-size="15.4" text-anchor="end">0</text><line x1="79.5" y1="210.53" x2="82.1" y2="210.53" stroke="#2b2b2b" stroke-width="1.2"/><line x1="352.5" y1="210.53" x2="349.9" y2="210.53" stroke="#2b2b2b" stroke-width="1.2"/><line x1="79.5" y1="193.66" x2="84.0" y2="193.66" stroke="#2b2b2b" stroke-width="1.2"/><line x1="352.5" y1="193.66" x2="348.0" y2="193.66" stroke="#2b2b2b" stroke-width="1.2"/><text x="74.40" y="197.16" font-size="15.4" text-anchor="end">10</text><line x1="79.5" y1="176.79" x2="82.1" y2="176.79" stroke="#2b2b2b" stroke-width="1.2"/><line x1="352.5" y1="176.79" x2="349.9" y2="176.79" stroke="#2b2b2b" stroke-width="1.2"/><line x1="79.5" y1="159.92" x2="84.0" y2="159.92" stroke="#2b2b2b" stroke-width="1.2"/><line x1="352.5" y1="159.92" x2="348.0" y2="159.92" stroke="#2b2b2b" stroke-width="1.2"/><text x="74.40" y="163.42" font-size="15.4" text-anchor="end">20</text><line x1="79.5" y1="143.05" x2="82.1" y2="143.05" stroke="#2b2b2b" stroke-width="1.2"/><line x1="352.5" y1="143.05" x2="349.9" y2="143.05" stroke="#2b2b2b" stroke-width="1.2"/><line x1="79.5" y1="126.18" x2="84.0" y2="126.18" stroke="#2b2b2b" stroke-width="1.2"/><line x1="352.5" y1="126.18" x2="348.0" y2="126.18" stroke="#2b2b2b" stroke-width="1.2"/><text x="74.40" y="129.68" font-size="15.4" text-anchor="end">30</text><line x1="79.5" y1="109.31" x2="82.1" y2="109.31" stroke="#2b2b2b" stroke-width="1.2"/><line x1="352.5" y1="109.31" x2="349.9" y2="109.31" stroke="#2b2b2b" stroke-width="1.2"/><line x1="79.5" y1="92.44" x2="84.0" y2="92.44" stroke="#2b2b2b" stroke-width="1.2"/><line x1="352.5" y1="92.44" x2="348.0" y2="92.44" stroke="#2b2b2b" stroke-width="1.2"/><text x="74.40" y="95.94" font-size="15.4" text-anchor="end">40</text><line x1="79.5" y1="75.57" x2="82.1" y2="75.57" stroke="#2b2b2b" stroke-width="1.2"/><line x1="352.5" y1="75.57" x2="349.9" y2="75.57" stroke="#2b2b2b" stroke-width="1.2"/><line x1="79.5" y1="58.70" x2="84.0" y2="58.70" stroke="#2b2b2b" stroke-width="1.2"/><line x1="352.5" y1="58.70" x2="348.0" y2="58.70" stroke="#2b2b2b" stroke-width="1.2"/><text x="74.40" y="62.20" font-size="15.4" text-anchor="end">50</text><line x1="79.5" y1="41.83" x2="82.1" y2="41.83" stroke="#2b2b2b" stroke-width="1.2"/><line x1="352.5" y1="41.83" x2="349.9" y2="41.83" stroke="#2b2b2b" stroke-width="1.2"/><line x1="79.5" y1="24.96" x2="84.0" y2="24.96" stroke="#2b2b2b" stroke-width="1.2"/><line x1="352.5" y1="24.96" x2="348.0" y2="24.96" stroke="#2b2b2b" stroke-width="1.2"/><text x="74.40" y="28.46" font-size="15.4" text-anchor="end">60</text><line x1="242.5" y1="26.00" x2="279.3" y2="26.00" stroke="#2212a8" stroke-width="2.0"/><text x="336.50" y="31.10" font-size="15.4" text-anchor="end">340 mA</text><line x1="242.5" y1="45.63" x2="279.3" y2="45.63" stroke="#3470c4" stroke-width="2.0"/><text x="336.50" y="50.73" font-size="15.4" text-anchor="end">300 mA</text><line x1="242.5" y1="65.26" x2="279.3" y2="65.26" stroke="#30dcd8" stroke-width="2.0"/><text x="336.50" y="70.36" font-size="15.4" text-anchor="end">260 mA</text><line x1="242.5" y1="84.89" x2="279.3" y2="84.89" stroke="#24d884" stroke-width="2.0"/><text x="336.50" y="89.99" font-size="15.4" text-anchor="end">220 mA</text><line x1="242.5" y1="104.52" x2="279.3" y2="104.52" stroke="#c4e43c" stroke-width="2.0"/><text x="336.50" y="109.62" font-size="15.4" text-anchor="end">180 mA</text><line x1="242.5" y1="124.15" x2="279.3" y2="124.15" stroke="#e6ee3a" stroke-width="2.0"/><text x="336.50" y="129.25" font-size="15.4" text-anchor="end">140 mA</text><line x1="242.5" y1="143.78" x2="279.3" y2="143.78" stroke="#cc7a3a" stroke-width="2.0"/><text x="336.50" y="148.88" font-size="15.4" text-anchor="end">100 mA</text><line x1="242.5" y1="163.41" x2="279.3" y2="163.41" stroke="#d01c30" stroke-width="2.0"/><text x="336.50" y="168.51" font-size="15.4" text-anchor="end">60 mA</text><text transform="translate(215.25,270.3) scale(0.955,1)" font-size="18" text-anchor="middle">Wavelength (nm)</text><text transform="translate(46.4,117) rotate(-90) scale(1,0.92)" font-size="18" text-anchor="middle">Intensity (arb. u.)</text><text transform="translate(-0.6,9.8) scale(0.97,1.1)" font-size="13.6" style="stroke:none">(a)</text><rect x="79.4" y="306.2" width="273.5" height="223.00000000000006" fill="none" stroke="#2b2b2b" stroke-width="1.5"/><text x="79.40" y="546.20" font-size="16" text-anchor="middle">50</text><line x1="100.12" y1="529.2" x2="100.12" y2="526.6" stroke="#2b2b2b" stroke-width="1.2"/><line x1="100.12" y1="306.2" x2="100.12" y2="308.8" stroke="#2b2b2b" stroke-width="1.2"/><line x1="120.84" y1="529.2" x2="120.84" y2="524.7" stroke="#2b2b2b" stroke-width="1.2"/><line x1="120.84" y1="306.2" x2="120.84" y2="310.7" stroke="#2b2b2b" stroke-width="1.2"/><text x="120.84" y="546.20" font-size="16" text-anchor="middle">100</text><line x1="141.56" y1="529.2" x2="141.56" y2="526.6" stroke="#2b2b2b" stroke-width="1.2"/><line x1="141.56" y1="306.2" x2="141.56" y2="308.8" stroke="#2b2b2b" stroke-width="1.2"/><line x1="162.28" y1="529.2" x2="162.28" y2="524.7" stroke="#2b2b2b" stroke-width="1.2"/><line x1="162.28" y1="306.2" x2="162.28" y2="310.7" stroke="#2b2b2b" stroke-width="1.2"/><text x="162.28" y="546.20" font-size="16" text-anchor="middle">150</text><line x1="183.00" y1="529.2" x2="183.00" y2="526.6" stroke="#2b2b2b" stroke-width="1.2"/><line x1="183.00" y1="306.2" x2="183.00" y2="308.8" stroke="#2b2b2b" stroke-width="1.2"/><line x1="203.72" y1="529.2" x2="203.72" y2="524.7" stroke="#2b2b2b" stroke-width="1.2"/><line x1="203.72" y1="306.2" x2="203.72" y2="310.7" stroke="#2b2b2b" stroke-width="1.2"/><text x="203.72" y="546.20" font-size="16" text-anchor="middle">200</text><line x1="224.44" y1="529.2" x2="224.44" y2="526.6" stroke="#2b2b2b" stroke-width="1.2"/><line x1="224.44" y1="306.2" x2="224.44" y2="308.8" stroke="#2b2b2b" stroke-width="1.2"/><line x1="245.16" y1="529.2" x2="245.16" y2="524.7" stroke="#2b2b2b" stroke-width="1.2"/><line x1="245.16" y1="306.2" x2="245.16" y2="310.7" stroke="#2b2b2b" stroke-width="1.2"/><text x="245.16" y="546.20" font-size="16" text-anchor="middle">250</text><line x1="265.88" y1="529.2" x2="265.88" y2="526.6" stroke="#2b2b2b" stroke-width="1.2"/><line x1="265.88" y1="306.2" x2="265.88" y2="308.8" stroke="#2b2b2b" stroke-width="1.2"/><line x1="286.60" y1="529.2" x2="286.60" y2="524.7" stroke="#2b2b2b" stroke-width="1.2"/><line x1="286.60" y1="306.2" x2="286.60" y2="310.7" stroke="#2b2b2b" stroke-width="1.2"/><text x="286.60" y="546.20" font-size="16" text-anchor="middle">300</text><line x1="307.32" y1="529.2" x2="307.32" y2="526.6" stroke="#2b2b2b" stroke-width="1.2"/><line x1="307.32" y1="306.2" x2="307.32" y2="308.8" stroke="#2b2b2b" stroke-width="1.2"/><line x1="328.04" y1="529.2" x2="328.04" y2="524.7" stroke="#2b2b2b" stroke-width="1.2"/><line x1="328.04" y1="306.2" x2="328.04" y2="310.7" stroke="#2b2b2b" stroke-width="1.2"/><text x="328.04" y="546.20" font-size="16" text-anchor="middle">350</text><line x1="348.76" y1="529.2" x2="348.76" y2="526.6" stroke="#2b2b2b" stroke-width="1.2"/><line x1="348.76" y1="306.2" x2="348.76" y2="308.8" stroke="#2b2b2b" stroke-width="1.2"/><text x="74.00" y="533.50" font-size="16" text-anchor="end">452</text><line x1="79.4" y1="512.05" x2="82.0" y2="512.05" stroke="#2b2b2b" stroke-width="1.2"/><line x1="79.4" y1="494.89" x2="83.9" y2="494.89" stroke="#2b2b2b" stroke-width="1.2"/><text x="74.00" y="499.19" font-size="16" text-anchor="end">454</text><line x1="79.4" y1="477.74" x2="82.0" y2="477.74" stroke="#2b2b2b" stroke-width="1.2"/><line x1="79.4" y1="460.58" x2="83.9" y2="460.58" stroke="#2b2b2b" stroke-width="1.2"/><text x="74.00" y="464.88" font-size="16" text-anchor="end">456</text><line x1="79.4" y1="443.43" x2="82.0" y2="443.43" stroke="#2b2b2b" stroke-width="1.2"/><line x1="79.4" y1="426.28" x2="83.9" y2="426.28" stroke="#2b2b2b" stroke-width="1.2"/><text x="74.00" y="430.58" font-size="16" text-anchor="end">458</text><line x1="79.4" y1="409.12" x2="82.0" y2="409.12" stroke="#2b2b2b" stroke-width="1.2"/><line x1="79.4" y1="391.97" x2="83.9" y2="391.97" stroke="#2b2b2b" stroke-width="1.2"/><text x="74.00" y="396.27" font-size="16" text-anchor="end">460</text><line x1="79.4" y1="374.82" x2="82.0" y2="374.82" stroke="#2b2b2b" stroke-width="1.2"/><line x1="79.4" y1="357.66" x2="83.9" y2="357.66" stroke="#2b2b2b" stroke-width="1.2"/><text x="74.00" y="361.96" font-size="16" text-anchor="end">462</text><line x1="79.4" y1="340.51" x2="82.0" y2="340.51" stroke="#2b2b2b" stroke-width="1.2"/><line x1="79.4" y1="323.35" x2="83.9" y2="323.35" stroke="#2b2b2b" stroke-width="1.2"/><text x="74.00" y="327.65" font-size="16" text-anchor="end">464</text><text x="357.80" y="533.80" font-size="16">0</text><line x1="352.9" y1="508.93" x2="350.29999999999995" y2="508.93" stroke="#2b2b2b" stroke-width="1.2"/><line x1="352.9" y1="488.65" x2="348.4" y2="488.65" stroke="#2b2b2b" stroke-width="1.2"/><text x="357.80" y="493.25" font-size="16">4</text><line x1="352.9" y1="468.38" x2="350.29999999999995" y2="468.38" stroke="#2b2b2b" stroke-width="1.2"/><line x1="352.9" y1="448.11" x2="348.4" y2="448.11" stroke="#2b2b2b" stroke-width="1.2"/><text x="357.80" y="452.71" font-size="16">8</text><line x1="352.9" y1="427.84" x2="350.29999999999995" y2="427.84" stroke="#2b2b2b" stroke-width="1.2"/><line x1="352.9" y1="407.56" x2="348.4" y2="407.56" stroke="#2b2b2b" stroke-width="1.2"/><text x="357.80" y="412.16" font-size="16">12</text><line x1="352.9" y1="387.29" x2="350.29999999999995" y2="387.29" stroke="#2b2b2b" stroke-width="1.2"/><line x1="352.9" y1="367.02" x2="348.4" y2="367.02" stroke="#2b2b2b" stroke-width="1.2"/><text x="357.80" y="371.62" font-size="16">16</text><line x1="352.9" y1="346.75" x2="350.29999999999995" y2="346.75" stroke="#2b2b2b" stroke-width="1.2"/><line x1="352.9" y1="326.47" x2="348.4" y2="326.47" stroke="#2b2b2b" stroke-width="1.2"/><text x="357.80" y="331.07" font-size="16">20</text><rect x="118.54" y="406.82" width="4.6" height="4.6" fill="#cc0022"/><rect x="118.54" y="338.36" width="4.6" height="4.6" fill="#0c04cc"/><rect x="151.69" y="406.82" width="4.6" height="4.6" fill="#cc0022"/><rect x="151.69" y="347.49" width="4.6" height="4.6" fill="#0c04cc"/><rect x="184.84" y="418.83" width="4.6" height="4.6" fill="#cc0022"/><rect x="184.84" y="380.94" width="4.6" height="4.6" fill="#0c04cc"/><rect x="217.99" y="437.70" width="4.6" height="4.6" fill="#cc0022"/><rect x="217.99" y="412.36" width="4.6" height="4.6" fill="#0c04cc"/><rect x="251.15" y="456.57" width="4.6" height="4.6" fill="#cc0022"/><rect x="251.15" y="429.59" width="4.6" height="4.6" fill="#0c04cc"/><rect x="284.30" y="476.12" width="4.6" height="4.6" fill="#cc0022"/><rect x="284.30" y="445.81" width="4.6" height="4.6" fill="#0c04cc"/><rect x="317.45" y="494.99" width="4.6" height="4.6" fill="#cc0022"/><rect x="317.45" y="451.89" width="4.6" height="4.6" fill="#0c04cc"/><line x1="264.3" y1="386.5" x2="298" y2="386.5" stroke="#111" stroke-width="1.6"/><path d="M303.8,386.5 L296.5,384.2 L297.8,386.5 L296.5,388.8 Z" fill="#111"/><line x1="119" y1="445" x2="156.7" y2="445" stroke="#111" stroke-width="1.6"/><path d="M113.2,445 L120.5,442.7 L119.2,445 L120.5,447.3 Z" fill="#111"/><text transform="translate(216,574.7) scale(0.972,1)" font-size="19.2" text-anchor="middle">Current (mA)</text><text transform="translate(36.3,420.25) rotate(-90) scale(1,0.92)" font-size="18.6" text-anchor="middle">Peak wavelength (nm)</text><text transform="translate(395.8,427.15) rotate(-90) scale(1,0.92)" font-size="18.6" text-anchor="middle">FWHM (nm)</text><text transform="translate(-0.6,294.6) scale(0.97,1.1)" font-size="13.6" style="stroke:none">(b)</text></svg>
</body></html>
